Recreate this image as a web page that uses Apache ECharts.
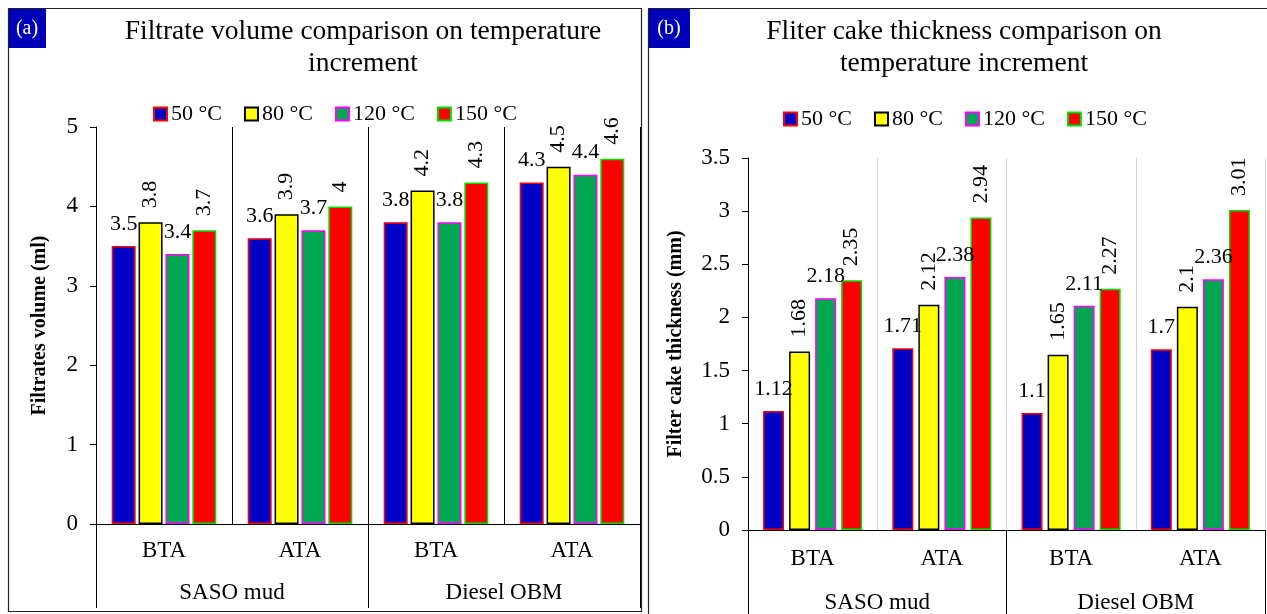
<!DOCTYPE html>
<html>
<head>
<meta charset="utf-8">
<script src="https://cdn.jsdelivr.net/npm/echarts@6/dist/echarts.min.js"></script>
<style>
  html, body { margin: 0; padding: 0; background: #fff; }
  #chart { width: 1267px; height: 614px; }
</style>
</head>
<body>
<div id="chart"></div>
<script>
// Categories: mud condition (inner level) and mud type (outer level)
const categories = ['BTA', 'ATA', 'BTA', 'ATA'];
const groups = ['SASO mud', 'Diesel OBM'];
const temps = ['50 °C', '80 °C', '120 °C', '150 °C'];

// (a) Filtrate volume, ml
const filtrate50 = [3.5, 3.6, 3.8, 4.3];
const filtrate80 = [3.8, 3.9, 4.2, 4.5];
const filtrate120 = [3.4, 3.7, 3.8, 4.4];
const filtrate150 = [3.7, 4, 4.3, 4.6];

// (b) Filter cake thickness, mm
const cake50 = [1.12, 1.71, 1.1, 1.7];
const cake80 = [1.68, 2.12, 1.65, 2.1];
const cake120 = [2.18, 2.38, 2.11, 2.36];
const cake150 = [2.35, 2.94, 2.27, 3.01];

// Value axis ranges
const volAxis = { min: 0, max: 5, interval: 1 };
const cakeAxis = { min: 0, max: 3.5, interval: 0.5 };

const fills = ['#0000c4', '#ffff00', '#00a650', '#ff0000'];
const borders = ['#ff0000', '#000000', '#ff00ff', '#00e000'];
const FONT = '"Liberation Serif", "Times New Roman", serif';

function makeSeries(dataSets, gridIdx, barWidth, barGap) {
  return dataSets.map((data, i) => {
    const rotated = i % 2 === 1;
    return {
      type: 'bar',
      name: temps[i],
      xAxisIndex: gridIdx * 2,
      yAxisIndex: gridIdx,
      data: data,
      barWidth: barWidth,
      barGap: barGap,
      itemStyle: { color: fills[i], borderColor: borders[i], borderWidth: 1.5 },
      label: rotated ? {
        show: true, position: 'top', rotate: 90, align: 'left', verticalAlign: 'middle',
        distance: 14, color: '#000', fontFamily: FONT, fontSize: 22
      } : {
        show: true, position: 'top', distance: 11, color: '#000', fontFamily: FONT, fontSize: 22
      }
    };
  });
}

function legendFor(x, top) {
  return {
    data: temps, left: x, top: top, icon: 'rect',
    itemWidth: 13, itemHeight: 13, itemGap: 22,
    textStyle: { fontFamily: FONT, fontSize: 22, color: '#000', padding: [0, 0, 0, -1] }
  };
}

function innerAxis(gridIdx, splitColor, margin) {
  return {
    type: 'category', gridIndex: gridIdx, data: categories, position: 'bottom',
    axisLine: { show: true, lineStyle: { color: '#000', width: 1 } },
    axisTick: { show: false },
    axisLabel: { color: '#000', fontFamily: FONT, fontSize: 23, margin: margin },
    splitLine: { show: true, lineStyle: { color: splitColor, width: 1 } }
  };
}

function outerAxis(gridIdx, offset, margin) {
  return {
    type: 'category', gridIndex: gridIdx, data: groups, position: 'bottom', offset: offset,
    axisLine: { show: false },
    axisTick: { show: true, inside: true, length: offset, lineStyle: { color: '#000', width: 1 } },
    axisLabel: { color: '#000', fontFamily: FONT, fontSize: 23, margin: margin },
    splitLine: { show: false }
  };
}

function valueAxis(gridIdx, range, name, nameGap) {
  return {
    type: 'value', gridIndex: gridIdx, min: range.min, max: range.max, interval: range.interval,
    name: name, nameLocation: 'middle', nameGap: nameGap,
    nameTextStyle: { fontFamily: FONT, fontSize: 20, fontWeight: 'bold', color: '#000' },
    axisLine: { show: true, lineStyle: { color: '#000', width: 1 } },
    axisTick: { show: true, length: 6, lineStyle: { color: '#000' } },
    axisLabel: { color: '#000', fontFamily: FONT, fontSize: 23, margin: 18 },
    splitLine: { show: false }
  };
}

const chart = echarts.init(document.getElementById('chart'), null, { renderer: 'canvas' });

chart.setOption({
  animation: false,
  backgroundColor: '#fff',
  title: [
    {
      text: 'Filtrate volume comparison on temperature\nincrement',
      left: 358, top: 11, textAlign: 'center',
      textStyle: { fontFamily: FONT, fontSize: 27.5, fontWeight: 'normal', color: '#000', lineHeight: 32 }
    },
    {
      text: 'Fliter cake thickness comparison on\ntemperature increment',
      left: 959, top: 11, textAlign: 'center',
      textStyle: { fontFamily: FONT, fontSize: 27.5, fontWeight: 'normal', color: '#000', lineHeight: 32 }
    }
  ],
  legend: [legendFor(148, 98), legendFor(778, 103)],
  grid: [
    { left: 96, top: 127, width: 544, height: 397 },
    { left: 748, top: 158, width: 517, height: 376 }
  ],
  xAxis: [
    innerAxis(0, '#000', 15),
    outerAxis(0, 84, -27),
    innerAxis(1, '#d4d4d4', 17),
    outerAxis(1, 84, -23)
  ],
  yAxis: [
    valueAxis(0, volAxis, 'Filtrates volume (ml)', 46),
    valueAxis(1, cakeAxis, 'Filter cake thickness (mm)', 62)
  ],
  series: [
    ...makeSeries([filtrate50, filtrate80, filtrate120, filtrate150], 0, 24, '12%'),
    ...makeSeries([cake50, cake80, cake120, cake150], 1, 21, '24%')
  ],
  graphic: [
    { type: 'rect', shape: { x: 8.5, y: 8.5, width: 633, height: 603 },
      style: { fill: 'none', stroke: '#222', lineWidth: 1.2 }, silent: true },
    { type: 'rect', shape: { x: 648.5, y: 8.5, width: 630, height: 620 },
      style: { fill: 'none', stroke: '#222', lineWidth: 1.2 }, silent: true },
    { type: 'rect', shape: { x: 9, y: 9, width: 37, height: 39 },
      style: { fill: '#0000b8' }, silent: true },
    { type: 'text', x: 27, y: 29,
      style: { text: '(a)', fill: '#fff', font: '20px ' + FONT, align: 'center', verticalAlign: 'middle' }, silent: true },
    { type: 'rect', shape: { x: 649, y: 9, width: 41, height: 39 },
      style: { fill: '#0000b8' }, silent: true },
    { type: 'text', x: 669, y: 29,
      style: { text: '(b)', fill: '#fff', font: '20px ' + FONT, align: 'center', verticalAlign: 'middle' }, silent: true }
  ]
});
</script>
</body>
</html>
